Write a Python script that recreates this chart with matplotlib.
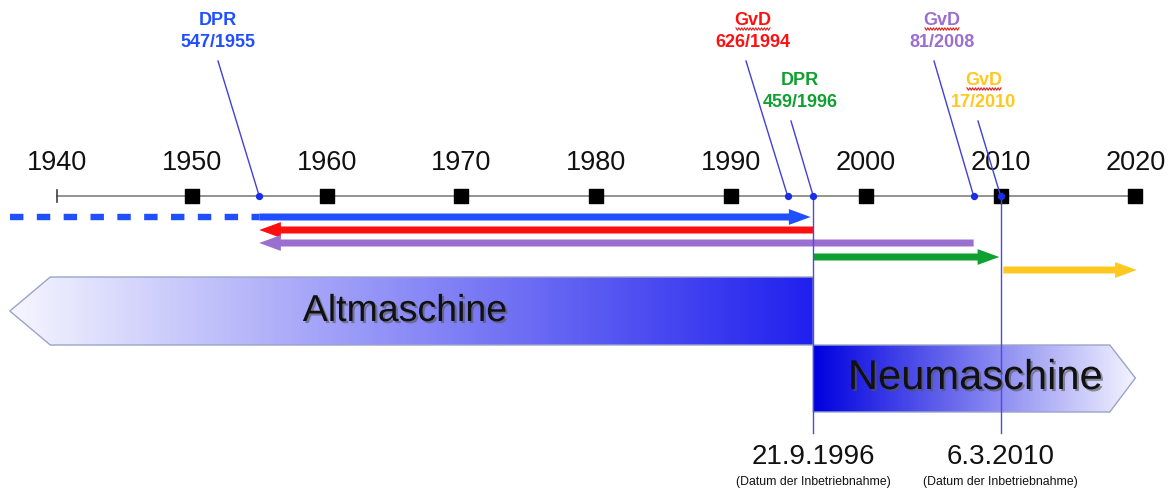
import numpy as np
import matplotlib.pyplot as plt
from matplotlib.patches import Polygon, FancyArrowPatch, ArrowStyle
from matplotlib.colors import LinearSegmentedColormap
import matplotlib.patheffects as pe

plt.rcParams['font.family'] = ['Liberation Sans', 'DejaVu Sans']

# timeline data
years = [1940, 1950, 1960, 1970, 1980, 1990, 2000, 2010, 2020]
event_names = ['DPR', 'GvD', 'DPR', 'GvD', 'GvD']
event_codes = ['547/1955', '626/1994', '459/1996', '81/2008', '17/2010']
event_years = [1955, 1994.2, 1996.1, 2008, 2010]
event_colors = ['#1f4fff', '#ff1010', '#10a030', '#9a6fd0', '#ffc820']

# validity periods (start, end) in years
periods_start = [1955, 1996.1, 2008, 1996.1, 2010.2]
periods_end = [1995.9, 1955, 1955, 2009.9, 2020.1]
period_colors = ['#1f4fff', '#ff1010', '#9a6fd0', '#10a030', '#ffc820']

commission_dates = ['21.9.1996', '6.3.2010']
commission_years = [1996.1, 2010]

px_per_year = 13.48
x0 = 1940 - 57 / px_per_year

fig = plt.figure(figsize=(11.74, 4.91), dpi=100)
ax = fig.add_axes([0, 0, 1, 1])
ax.axis('off')

# main axis
axis_y = 196
ax.plot([1940, 2020], [axis_y, axis_y], color='#808080', lw=1.2, zorder=2)
ax.plot([1940, 1940], [axis_y - 6, axis_y + 6], color='#404040', lw=1.2, zorder=2)
ax.scatter(years[1:], [axis_y] * (len(years) - 1), marker='s', s=110, color='black', zorder=3)
for yr in years:
    ax.text(yr, 163, str(yr), fontsize=19.5, ha='center', va='center', color='#111111')


def gradient_shape(verts, c_left, c_right, zorder):
    poly = Polygon(verts, closed=True, facecolor='none', edgecolor='#9aa4c8', lw=1, zorder=zorder + 1)
    ax.add_patch(poly)
    xs = [v[0] for v in verts]
    ys = [v[1] for v in verts]
    cmap = LinearSegmentedColormap.from_list('g', [c_left, c_right])
    img = ax.imshow(np.linspace(0, 1, 256).reshape(1, -1), cmap=cmap, aspect='auto',
                    extent=[min(xs), max(xs), max(ys), min(ys)], zorder=zorder)
    img.set_clip_path(poly)


# Altmaschine / Neumaschine shapes
alt_tip, alt_body, alt_end = 1936.5, 1939.5, 1996.1
gradient_shape([(alt_tip, 311), (alt_body, 277), (alt_end, 277), (alt_end, 345), (alt_body, 345)],
               '#f6f6ff', '#2020ee', 1)
neu_start, neu_body, neu_tip = 1996.1, 2018.1, 2020.0
gradient_shape([(neu_start, 345), (neu_body, 345), (neu_tip, 378), (neu_body, 412), (neu_start, 412)],
               '#0000e0', '#f4f4ff', 1)
ax.set_xlim(x0, x0 + 1174 / px_per_year)
ax.set_ylim(491, 0)

shadow = [pe.withSimplePatchShadow(offset=(1.5, -1.5), shadow_rgbFace='#555555', alpha=0.6)]
ax.text(x0 + 405 / px_per_year, 311, 'Altmaschine', fontsize=27, ha='center', va='center',
        color='#111111', path_effects=shadow, zorder=5)
ax.text(x0 + 975 / px_per_year, 378, 'Neumaschine', fontsize=30, ha='center', va='center',
        color='#111111', path_effects=shadow, zorder=5)

# dashed earlier period
ax.plot([1936.5, 1955], [217, 217], color='#1f4fff', lw=4.6, dashes=(2.1, 2.1),
        solid_capstyle='butt', dash_capstyle='butt', zorder=3)

# period arrows
arrow_y = [217, 230, 243, 257, 270]
style = ArrowStyle.Simple(head_length=1.3, head_width=0.95, tail_width=0.42)
for s, e, c, y in zip(periods_start, periods_end, period_colors, arrow_y):
    arr = FancyArrowPatch((s, y), (e, y), arrowstyle=style, mutation_scale=12,
                          color=c, lw=0, shrinkA=0, shrinkB=0, zorder=3)
    ax.add_patch(arr)

# commissioning lines
for d, yr in zip(commission_dates, commission_years):
    ax.plot([yr, yr], [axis_y, 433], color='#4a4ae8', lw=1, zorder=4)
    ax.text(yr, 457, d, fontsize=20, ha='center', va='center', color='#111111')
    ax.text(yr, 482, '(Datum der Inbetriebnahme)', fontsize=8.8, ha='center', va='center',
            color='#111111')

# event labels and leaders
label_x_px = [218, 753, 800, 942, 984]
label_top = [20, 20, 80, 20, 80]
leader_x_px = [218, 746, 791, 934, 978]


def squiggle(xc, y, w):
    xs = np.linspace(xc - w / 2, xc + w / 2, 25)
    ys = y + np.where(np.arange(25) % 2 == 0, -1.2, 1.2)
    ax.plot(xs, ys, color='#e02020', lw=0.8, zorder=4)


for name, code, yr, c, lx, lt, ldx in zip(event_names, event_codes, event_years, event_colors,
                                          label_x_px, label_top, leader_x_px):
    lxy = x0 + lx / px_per_year
    ax.text(lxy, lt, name, fontsize=13, fontweight='bold', ha='center', va='center', color=c)
    ax.text(lxy, lt + 22, code, fontsize=13, fontweight='bold', ha='center', va='center', color=c)
    if name == 'GvD':
        squiggle(lxy, lt + 9, 34 / px_per_year)
    ax.plot([x0 + ldx / px_per_year, yr], [lt + 41, axis_y], color='#4040d8', lw=1, zorder=4)
    ax.scatter([yr], [axis_y], s=18, color='#1a2ee8', zorder=5)

fig.savefig('out.png', dpi=100)
